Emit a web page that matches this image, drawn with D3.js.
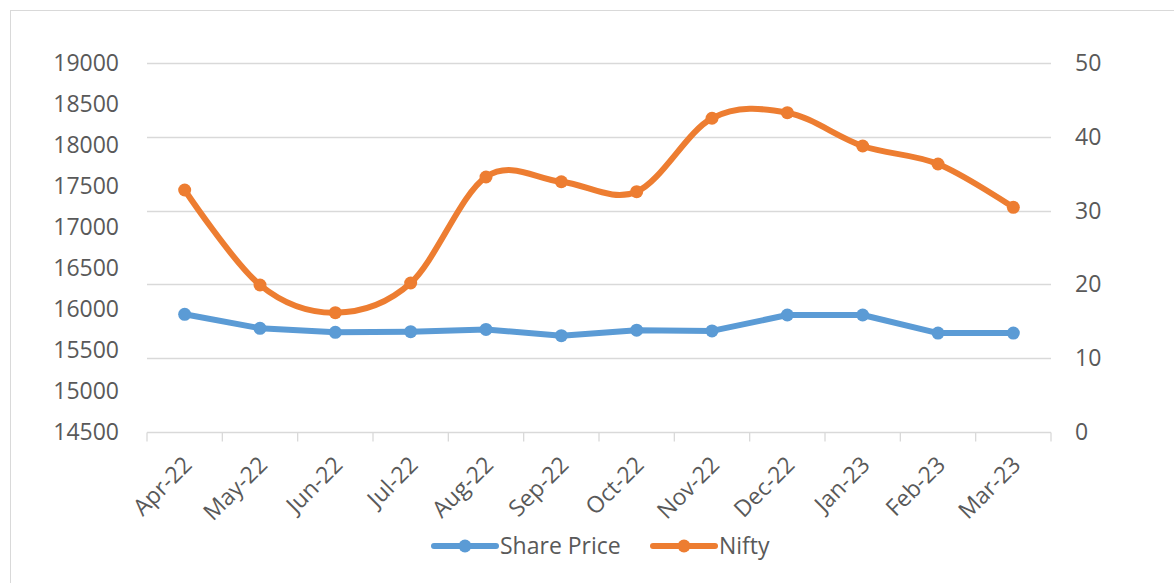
<!DOCTYPE html>
<html>
<head>
<meta charset="utf-8">
<script src="https://cdn.jsdelivr.net/npm/d3@7"></script>
<style>
  html, body { margin: 0; padding: 0; background: #fff; }
  text { font-family: "Open Sans", sans-serif; fill: #595959; }
</style>
</head>
<body>
<svg id="chart" width="1174" height="583"></svg>
<script>
const categories = ["Apr-22","May-22","Jun-22","Jul-22","Aug-22","Sep-22","Oct-22","Nov-22","Dec-22","Jan-23","Feb-23","Mar-23"];
const sharePrice = [15.95, 14.05, 13.5, 13.6, 13.9, 13.05, 13.8, 13.7, 15.85, 15.85, 13.4, 13.4];
const nifty = [17451, 16293, 15955, 16317, 17610, 17552, 17431, 18326, 18394, 17988, 17768, 17240];
const leftTicks = [14500, 15000, 15500, 16000, 16500, 17000, 17500, 18000, 18500, 19000];
const rightTicks = [0, 10, 20, 30, 40, 50];
const seriesNames = ["Share Price", "Nifty"];

const svg = d3.select("#chart");
const blue = "#5B9BD5", orange = "#ED7D31", grid = "#d9d9d9";
const fs = "23px";

// chart border
svg.append("rect").attr("x", 10.5).attr("y", 10.5).attr("width", 1200).attr("height", 600)
  .attr("fill", "none").attr("stroke", grid).attr("stroke-width", 1);

const x0 = 147, x1 = 1051, yTop = 63, yBot = 432;
const x = d3.scaleBand().domain(categories).range([x0, x1]);
const yL = d3.scaleLinear().domain([14500, 19000]).range([yBot, yTop]);
const yR = d3.scaleLinear().domain([0, 50]).range([yBot, yTop]);

// gridlines
svg.append("g").selectAll("line").data(rightTicks.filter(d => d > 0)).join("line")
  .attr("x1", x0).attr("x2", x1)
  .attr("y1", d => Math.round(yR(d)) + 0.5).attr("y2", d => Math.round(yR(d)) + 0.5)
  .attr("stroke", grid).attr("stroke-width", 1.3);

// x axis
const xAxis = svg.append("g").attr("transform", `translate(0,${yBot + 0.5})`);
xAxis.append("line").attr("x1", x0).attr("x2", x1).attr("stroke", grid).attr("stroke-width", 1.3);
const bounds = categories.map(c => x(c)).concat([x1]);
xAxis.selectAll("line.tick").data(bounds).join("line").attr("class", "tick")
  .attr("x1", d => d).attr("x2", d => d).attr("y1", 0).attr("y2", 9)
  .attr("stroke", grid).attr("stroke-width", 1.3);
xAxis.selectAll("text").data(categories).join("text")
  .attr("transform", d => `translate(${x(d) + x.bandwidth() / 2 + 3},${28}) rotate(-45)`)
  .attr("text-anchor", "end").attr("dy", "0.35em")
  .style("font-size", fs).text(d => d);

// left axis labels
svg.append("g").selectAll("text").data(leftTicks).join("text")
  .attr("x", 119).attr("y", d => yL(d)).attr("dy", "0.35em")
  .attr("text-anchor", "end").style("font-size", fs).text(d => d);

// right axis labels
svg.append("g").selectAll("text").data(rightTicks).join("text")
  .attr("x", 1075).attr("y", d => yR(d)).attr("dy", "0.35em")
  .attr("text-anchor", "start").style("font-size", fs).text(d => d);

const cx = (d, i) => x(categories[i]) + x.bandwidth() / 2;

// Share Price (right axis)
svg.append("path").datum(sharePrice)
  .attr("d", d3.line().x(cx).y(d => yR(d)))
  .attr("fill", "none").attr("stroke", blue).attr("stroke-width", 6)
  .attr("stroke-linejoin", "round").attr("stroke-linecap", "round");
svg.append("g").selectAll("circle").data(sharePrice).join("circle")
  .attr("cx", cx).attr("cy", d => yR(d)).attr("r", 6.5).attr("fill", blue);

// Nifty (left axis), smoothed
svg.append("path").datum(nifty)
  .attr("d", d3.line().x(cx).y(d => yL(d)).curve(d3.curveCatmullRom.alpha(0)))
  .attr("fill", "none").attr("stroke", orange).attr("stroke-width", 6)
  .attr("stroke-linejoin", "round").attr("stroke-linecap", "round");
svg.append("g").selectAll("circle").data(nifty).join("circle")
  .attr("cx", cx).attr("cy", d => yL(d)).attr("r", 6.5).attr("fill", orange);

// legend
const legend = [
  { name: seriesNames[0], color: blue, x: 434 },
  { name: seriesNames[1], color: orange, x: 653 }
];
const lg = svg.append("g").selectAll("g").data(legend).join("g")
  .attr("transform", d => `translate(${d.x},546)`);
lg.append("line").attr("x1", 0).attr("x2", 62).attr("stroke", d => d.color)
  .attr("stroke-width", 6).attr("stroke-linecap", "round");
lg.append("circle").attr("cx", 31).attr("r", 6.5).attr("fill", d => d.color);
lg.append("text").attr("x", 66).attr("dy", "0.35em").style("font-size", fs).text(d => d.name);
</script>
</body>
</html>
